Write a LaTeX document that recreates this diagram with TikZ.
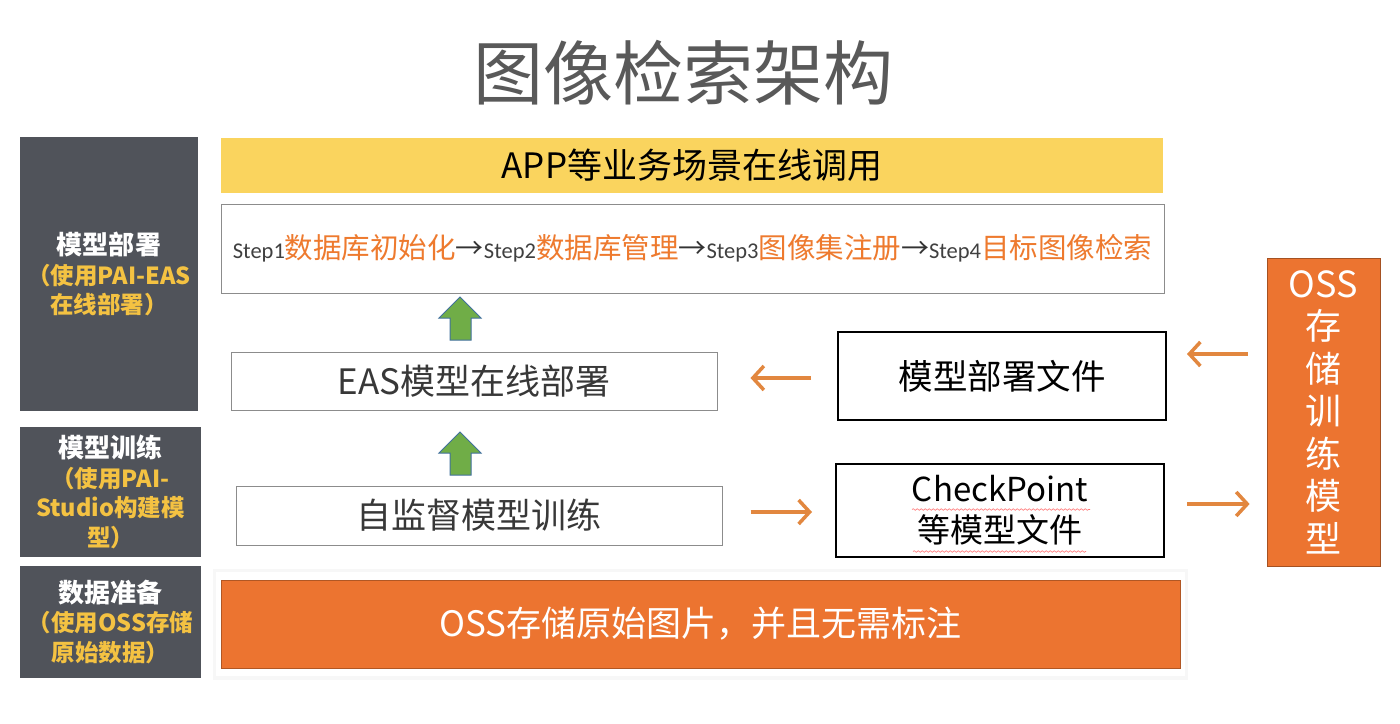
\documentclass[tikz,border=0pt]{standalone}
\usepackage{fontspec}
\setmainfont{Noto Sans CJK SC}
\newfontfamily\stepfont{Carlito}
\newfontfamily\tcfont{Noto Sans CJK TC}
\usetikzlibrary{arrows.meta,calc,decorations.pathmorphing}
\definecolor{darkbox}{HTML}{50535A}
\definecolor{ytxt}{HTML}{F4C242}
\definecolor{ybar}{HTML}{FAD45E}
\definecolor{obox}{HTML}{EC7430}
\definecolor{oarr}{HTML}{E2873F}
\definecolor{ostep}{HTML}{EE7A2E}
\definecolor{gfill}{HTML}{70AD47}
\definecolor{gedge}{HTML}{41719C}
\definecolor{titlegray}{HTML}{595959}
\definecolor{boxgray}{HTML}{8C8C8C}
\tikzset{
  side/.style={fill=darkbox, draw=none, inner sep=0pt, align=center, font=\bfseries\fontsize{23.5}{29.5}\selectfont, text=ytxt},
  plainbox/.style={draw=boxgray, line width=1pt, fill=white, inner sep=0pt, align=center},
  blackbox/.style={draw=black, line width=2pt, fill=white, inner sep=0pt, align=center, font=\fontsize{33}{41}\selectfont},
  oarrow/.style={draw=oarr, line width=3.5pt, -{Straight Barb[length=11pt,width=24pt,line width=3.5pt]}},
  garrow/.style={fill=gfill, draw=gedge, line width=1pt, line join=miter},
}
\newcommand{\sarr}{{\fontsize{28}{30}\selectfont\color{black!80}→}}
\newcommand{\stp}[1]{{\stepfont\fontsize{22.5}{24}\selectfont\color{black!75}#1}}
\newcommand{\ocn}[1]{{\fontsize{28.5}{30}\selectfont\color{ostep}#1}}
\newcommand{\lp}{{\tcfont\bfseries （}}
\newcommand{\rp}{{\tcfont\bfseries ）}}
\begin{document}
\begin{tikzpicture}[x=1pt,y=-1pt]
\useasboundingbox (0,0) rectangle (1400,723);
\fill[white] (0,0) rectangle (1400,723);

% title
\node[text=titlegray, font=\fontsize{70}{72}\selectfont, inner sep=0pt] (title) at (683,73) {图像检索架构};

% left side boxes
\node[side, minimum width=178pt, minimum height=274pt] (side1) at (109,274)
  {{\color{white}\fontsize{26}{29.5}\selectfont 模型部署}\\\lp 使用PAI-EAS\\在线部署\rp};
\node[side, minimum width=181pt, minimum height=130pt] (side2) at (110.5,492)
  {{\color{white}\fontsize{26}{29.5}\selectfont 模型训练}\\\lp 使用PAI-\\Studio构建模\\型\rp};
\node[side, minimum width=181pt, minimum height=112pt] (side3) at (110.5,622)
  {{\color{white}\fontsize{26}{29.5}\selectfont 数据准备}\\\lp 使用OSS存储\\原始数据\rp};

% yellow bar
\node[fill=ybar, inner sep=0pt, minimum width=942pt, minimum height=55pt, font=\fontsize{35}{37}\selectfont] (app) at (692,165.5) {APP等业务场景在线调用};

% steps box
\node[plainbox, minimum width=943pt, minimum height=89pt] (steps) at (692.5,248.5)
  {\stp{Step1}\ocn{数据库初始化}\sarr\stp{Step2}\ocn{数据库管理}\sarr\stp{Step3}\ocn{图像集注册}\sarr\stp{Step4}\ocn{目标图像检索}};

% middle boxes
\node[plainbox, minimum width=486pt, minimum height=58pt, font=\fontsize{35}{38}\selectfont, text=black!78] (eas) at (474,381) {EAS模型在线部署};
\node[plainbox, minimum width=486pt, minimum height=59pt, font=\fontsize{35}{38}\selectfont, text=black!78] (train) at (479,515.5) {自监督模型训练};

% right black boxes
\node[blackbox, minimum width=328pt, minimum height=88pt, font=\fontsize{34.5}{41}\selectfont] (depfile) at (1002,376) {模型部署文件};
\node[blackbox, minimum width=328pt, minimum height=93pt] (ckpt) at (1000,510.5) {CheckPoint\\等模型文件};
\draw[red!55, line width=0.6pt, decorate, decoration={snake, amplitude=0.8pt, segment length=4pt}]
  ($(ckpt.center)+(-88,-1)$) -- ($(ckpt.center)+(90,-1)$);
\draw[red!55, line width=0.6pt, decorate, decoration={snake, amplitude=0.8pt, segment length=4pt}]
  ($(ckpt.center)+(-87,41)$) -- ($(ckpt.center)+(86,41)$);

% OSS right box
\node[fill=obox, draw=obox!70!black, line width=0.8pt, inner sep=0pt, minimum width=113pt, minimum height=308pt,
      text=white, align=center, font=\fontsize{36}{42.5}\selectfont] (oss) at (1323.5,412)
  {OSS\\存\\储\\训\\练\\模\\型};

% bottom bar
\fill[black!3] (213,569) rectangle (1188,680);
\fill[white] (216,572) rectangle (1185,676);
\node[fill=obox, draw=obox!75!black, line width=0.8pt, inner sep=0pt, minimum width=959pt, minimum height=88pt,
      text=white, font=\fontsize{35}{38}\selectfont] (raw) at (700.5,624) {OSS存储原始图片，并且无需标注};

% green block arrows
\draw[garrow] (460,297) -- (481,318) -- (471,318) -- (471,340) -- (450,340) -- (450,318) -- (439,318) -- cycle;
\draw[garrow] (460,432) -- (481,453) -- (471,453) -- (471,475) -- (450,475) -- (450,453) -- (439,453) -- cycle;

% orange arrows
\draw[oarrow] ($(depfile.west)+(-26,2)$) -- ($(eas.east)+(33,-3)$);
\draw[oarrow] ($(oss.west)+(-19,-58)$) -- ($(depfile.east)+(20,-22)$);
\draw[oarrow] ($(train.east)+(28,-3.5)$) -- ($(ckpt.west)+(-23,1.5)$);
\draw[oarrow] ($(ckpt.east)+(22,-6.5)$) -- ($(oss.west)+(-17,92)$);
\end{tikzpicture}
\end{document}
